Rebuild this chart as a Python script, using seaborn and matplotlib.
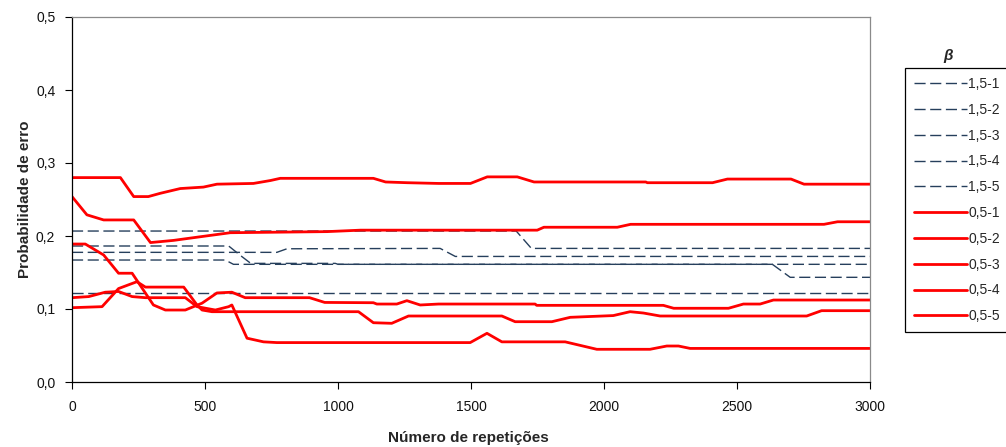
import matplotlib
matplotlib.use("Agg")
import matplotlib.pyplot as plt
from matplotlib.ticker import FuncFormatter
import pandas as pd
import seaborn as sns

# Series (breakpoints of each curve: number of repetitions, error probability)
x_15_1 = [0, 1670, 1727, 3000]
y_15_1 = [0.2068, 0.2068, 0.183, 0.183]
x_15_2 = [0, 589, 639, 672, 990, 1000, 2633, 2700, 3000]
y_15_2 = [0.1863, 0.1863, 0.1717, 0.1625, 0.1625, 0.1612, 0.1612, 0.1434, 0.1434]
x_15_3 = [0, 770, 808, 1384, 1441, 3000]
y_15_3 = [0.1776, 0.1776, 0.1825, 0.183, 0.172, 0.172]
x_15_4 = [0, 576, 607, 3000]
y_15_4 = [0.1671, 0.1671, 0.1612, 0.1612]
x_15_5 = [0, 3000]
y_15_5 = [0.122, 0.122]

x_05_1 = [0, 182, 232, 287, 332, 407, 494, 545, 682, 746, 783, 1133, 1179, 1260,
          1378, 1498, 1561, 1674, 1737, 2157, 2163, 2408, 2464, 2703, 2752, 3000]
y_05_1 = [0.280, 0.280, 0.254, 0.254, 0.2585, 0.265, 0.267, 0.271, 0.272, 0.276, 0.279,
          0.279, 0.274, 0.273, 0.272, 0.272, 0.281, 0.281, 0.274, 0.274, 0.273, 0.273,
          0.278, 0.278, 0.271, 0.271]
x_05_2 = [0, 56, 119, 232, 295, 382, 483, 595, 959, 1085, 1749, 1774, 2050, 2100,
          2827, 2878, 3000]
y_05_2 = [0.254, 0.229, 0.222, 0.222, 0.191, 0.194, 0.199, 0.2045, 0.206, 0.208, 0.208,
          0.212, 0.212, 0.216, 0.216, 0.2195, 0.2195]
x_05_3 = [0, 50, 119, 175, 226, 306, 351, 426, 489, 545, 601, 651, 893, 950, 1133, 1146,
          1221, 1259, 1309, 1378, 1741, 1747, 2223, 2262, 2468, 2524, 2587, 2637, 3000]
y_05_3 = [0.189, 0.189, 0.174, 0.149, 0.149, 0.1055, 0.0986, 0.0986, 0.108, 0.122, 0.123,
          0.1155, 0.1155, 0.109, 0.1086, 0.1068, 0.1068, 0.1114, 0.1055, 0.1068, 0.1068,
          0.105, 0.105, 0.101, 0.101, 0.1068, 0.1068, 0.1123, 0.1123]
x_05_4 = [0, 63, 125, 175, 226, 276, 426, 470, 539, 589, 601, 658, 720, 770, 1497, 1560,
          1616, 1854, 1973, 2173, 2236, 2280, 2324, 3000]
y_05_4 = [0.1155, 0.117, 0.123, 0.124, 0.117, 0.1155, 0.1155, 0.1032, 0.0986, 0.1032,
          0.1055, 0.060, 0.055, 0.054, 0.054, 0.0667, 0.055, 0.055, 0.0448, 0.0448,
          0.0493, 0.0493, 0.046, 0.046]
x_05_5 = [0, 113, 175, 244, 276, 420, 470, 489, 526, 1077, 1133, 1202, 1265, 1616, 1666,
          1804, 1873, 2035, 2098, 2148, 2211, 2762, 2818, 3000]
y_05_5 = [0.1018, 0.1032, 0.128, 0.1374, 0.130, 0.130, 0.1055, 0.0986, 0.0963, 0.0963,
          0.0812, 0.0804, 0.0904, 0.0904, 0.0826, 0.0826, 0.0886, 0.091, 0.0963, 0.0945,
          0.0904, 0.0904, 0.0977, 0.0977]

series_names = ["1,5-1", "1,5-2", "1,5-3", "1,5-4", "1,5-5",
                "0,5-1", "0,5-2", "0,5-3", "0,5-4", "0,5-5"]
series_x = [x_15_1, x_15_2, x_15_3, x_15_4, x_15_5, x_05_1, x_05_2, x_05_3, x_05_4, x_05_5]
series_y = [y_15_1, y_15_2, y_15_3, y_15_4, y_15_5, y_05_1, y_05_2, y_05_3, y_05_4, y_05_5]

x_ticks = [0, 500, 1000, 1500, 2000, 2500, 3000]
y_ticks = [0.0, 0.1, 0.2, 0.3, 0.4, 0.5]

df = pd.concat(
    [pd.DataFrame({"serie": n, "rep": xs, "prob": ys})
     for n, xs, ys in zip(series_names, series_x, series_y)],
    ignore_index=True,
)

sns.set_theme(style="white")
plt.rcParams["font.family"] = ["Liberation Sans", "DejaVu Sans"]

NAVY = "#263f5c"
RED = "#ff0000"

fig = plt.figure(figsize=(10.06, 4.47), dpi=100)
ax = fig.add_axes([72 / 1006, 65 / 447, 798 / 1006, 365 / 447])

handles = []
for name in series_names:
    dashed = name.startswith("1,5")
    sub = df[df["serie"] == name]
    sns.lineplot(data=sub, x="rep", y="prob", ax=ax, estimator=None, sort=False,
                 color=NAVY if dashed else RED, linewidth=1.0 if dashed else 2.0,
                 legend=False)
    line = ax.lines[-1]
    line.set_label(name)
    if dashed:
        line.set_dashes([8, 3.3])
    line.set_solid_joinstyle("round")
    handles.append(line)

ax.set_xlim(0, 3000)
ax.set_ylim(0, 0.5)
ax.set_xticks(x_ticks)
ax.set_yticks(y_ticks)
ax.yaxis.set_major_formatter(FuncFormatter(lambda v, _: f"{v:.1f}".replace(".", ",")))
ax.tick_params(axis="both", which="major", bottom=True, left=True, direction="out",
               length=5, width=0.8, color="black", labelsize=10, labelcolor="#111111")
ax.tick_params(axis="x", pad=8)
ax.tick_params(axis="y", pad=7)

for side in ("left", "bottom"):
    ax.spines[side].set_color("black")
    ax.spines[side].set_linewidth(0.9)
for side in ("top", "right"):
    ax.spines[side].set_color("#8a8a8a")
    ax.spines[side].set_linewidth(0.9)

ax.set_xlabel("Número de repetições", fontsize=11, fontweight="bold")
ax.set_ylabel("Probabilidade de erro", fontsize=11, fontweight="bold")
ax.xaxis.set_label_coords(0.497, -0.135)
ax.yaxis.set_label_coords(-0.05, 0.5)

leg = fig.legend(handles=handles, labels=series_names, loc="upper left",
                 bbox_to_anchor=(905 / 1006, 1 - 68 / 447), bbox_transform=fig.transFigure,
                 borderaxespad=0, frameon=True, fancybox=False, framealpha=1,
                 edgecolor="black", fontsize=10, handlelength=3.8, handletextpad=0.1,
                 labelspacing=0.85, borderpad=0.65)
leg.get_frame().set_linewidth(0.9)

fig.text(948 / 1006, 1 - 56 / 447, "β", fontsize=11, fontweight="bold", fontstyle="italic",
         ha="center", va="center")

fig.savefig("out.png", dpi=100)
